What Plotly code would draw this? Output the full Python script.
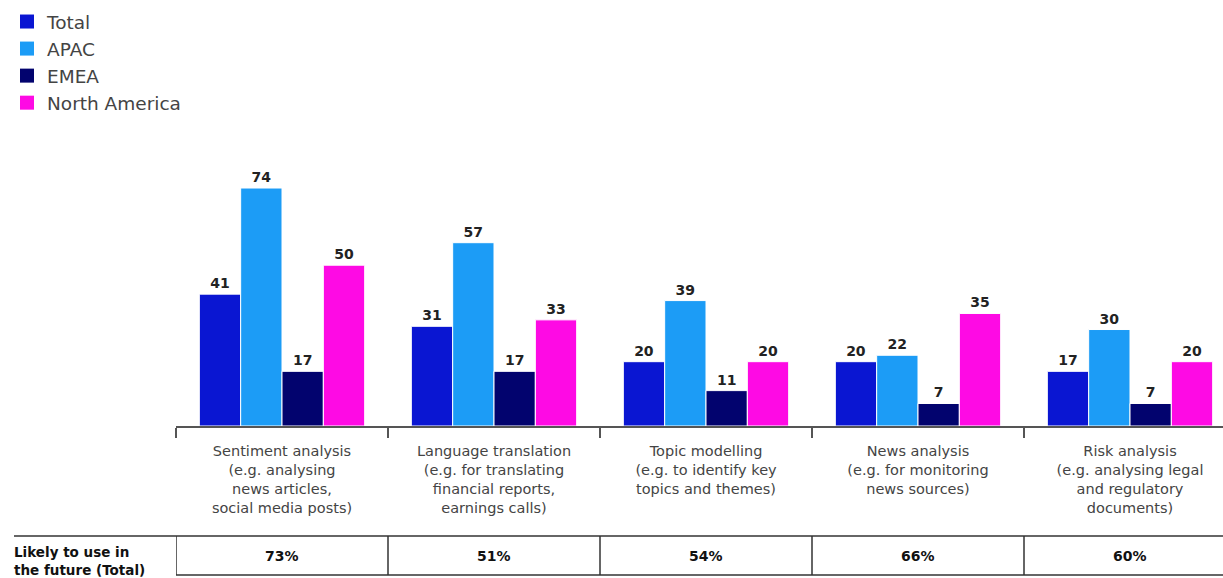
import plotly.graph_objects as go

# Use cases and regional share (%) of respondents currently using each
categories = [
    "Sentiment analysis<br>(e.g. analysing<br>news articles,<br>social media posts)",
    "Language translation<br>(e.g. for translating<br>financial reports,<br>earnings calls)",
    "Topic modelling<br>(e.g. to identify key<br>topics and themes)",
    "News analysis<br>(e.g. for monitoring<br>news sources)",
    "Risk analysis<br>(e.g. analysing legal<br>and regulatory<br>documents)",
]
total = [41, 31, 20, 20, 17]
apac = [74, 57, 39, 22, 30]
emea = [17, 17, 11, 7, 7]
north_america = [50, 33, 20, 35, 20]
future_total = ["73%", "51%", "54%", "66%", "60%"]

series = [
    ("Total", total, "#0A16D2"),
    ("APAC", apac, "#1C9CF6"),
    ("EMEA", emea, "#02036E"),
    ("North America", north_america, "#FE0AE4"),
]

FONT = "DejaVu Sans"
W, H = 1223, 578
L, R, T, B = 176, 0, 140, 152
plot_w = W - L - R
plot_h = H - T - B
cat_px = 212  # width of one category slot

fig = go.Figure()
for name, vals, color in series:
    fig.add_trace(go.Bar(
        name=name, x=categories, y=vals, showlegend=False,
        marker=dict(color=color, line=dict(color="white", width=1)),
        text=[str(v) for v in vals], textposition="outside",
        textfont=dict(family=FONT, size=14, color="#222222", weight="bold"),
        cliponaxis=False,
    ))
# Legend keys: large square swatches
for name, vals, color in series:
    fig.add_trace(go.Scatter(
        name=name, x=[None], y=[None], mode="markers",
        marker=dict(symbol="square", size=14, color=color),
    ))

def px_x(p):
    return (p - L) / plot_w

def px_y(p):
    return (H - B - p) / plot_h

line_style = dict(color="#333333", width=1.5)
shapes = [
    # Summary row: top border spans the row label, bottom border the cells
    dict(type="line", xref="paper", yref="paper", x0=px_x(14), x1=px_x(W + 5),
         y0=px_y(536), y1=px_y(536), line=line_style),
    dict(type="line", xref="paper", yref="paper", x0=0, x1=px_x(W + 5),
         y0=px_y(575), y1=px_y(575), line=line_style),
]
for k in range(len(categories)):
    shapes.append(dict(type="line", xref="x", yref="paper",
                       x0=k - 0.5, x1=k - 0.5, y0=px_y(536), y1=px_y(575),
                       line=line_style))

annotations = [dict(
    text="Likely to use in<br>the future (Total)", xref="paper", yref="paper",
    x=px_x(14), y=px_y(561), xanchor="left", yanchor="middle", align="left",
    xshift=-2, showarrow=False,
    font=dict(family=FONT, size=13.5, color="#111111", weight="bold"),
)]
for k, v in enumerate(future_total):
    annotations.append(dict(
        text=v, xref="x", yref="paper", x=k, y=px_y(556),
        xanchor="center", yanchor="middle", showarrow=False,
        font=dict(family=FONT, size=14, color="#111111", weight="bold"),
    ))

fig.update_layout(
    width=W, height=H,
    margin=dict(l=L, r=R, t=T, b=B, autoexpand=False),
    paper_bgcolor="white", plot_bgcolor="white",
    barmode="group", bargap=0.22, bargroupgap=0,
    font=dict(family=FONT, color="#444444"),
    legend=dict(
        xref="container", yref="container", x=7 / W, y=1 - 3 / H,
        xanchor="left", yanchor="top", traceorder="normal",
        font=dict(family=FONT, size=18.5, color="#444444"),
        itemwidth=30, tracegroupgap=0,
    ),
    xaxis=dict(
        range=[-0.5, -0.5 + plot_w / cat_px],
        showline=True, linecolor="#555555", linewidth=1.5,
        ticks="outside", tickson="boundaries", ticklen=10,
        tickcolor="#555555", tickwidth=1.5,
        tickfont=dict(family=FONT, size=14.5, color="#444444"),
        ticklabelstandoff=11,
        showgrid=False, zeroline=False,
    ),
    yaxis=dict(range=[0, plot_h / 3.216], visible=False, showgrid=False),
    shapes=shapes, annotations=annotations,
)

fig.write_html("out.html")
